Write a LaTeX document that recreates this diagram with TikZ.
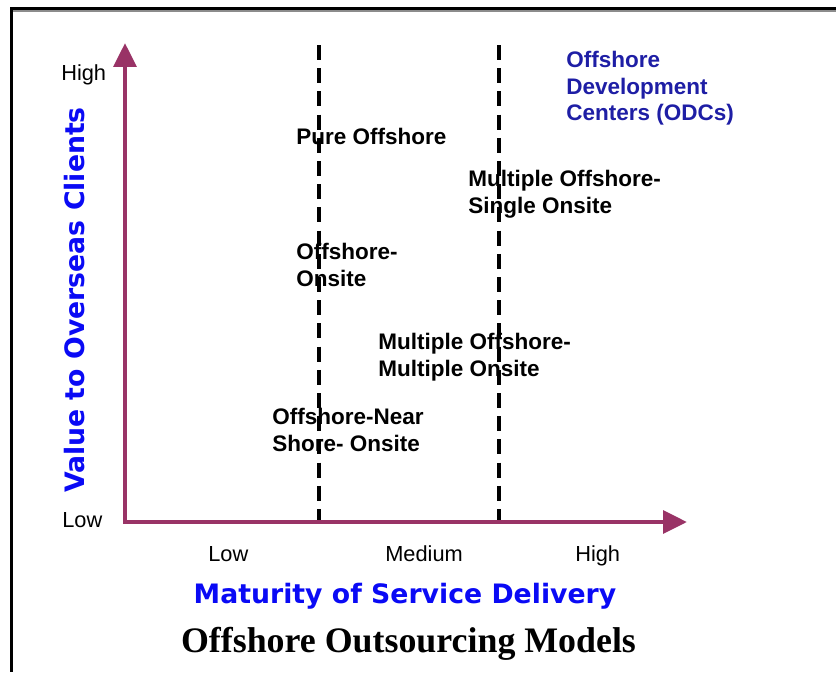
\documentclass[tikz,border=0pt]{standalone}
\usepackage{fontspec}
\setmainfont{Liberation Sans}
\newfontfamily\verdana{DejaVu Sans}
\newfontfamily\serifbold{Liberation Serif}
\usetikzlibrary{arrows.meta}
\definecolor{plum}{RGB}{153, 51, 102}
\definecolor{bl}{RGB}{10, 10, 245}
\definecolor{nv}{RGB}{30, 30, 165}

\tikzset{
    axis/.style={plum, line width=3.2pt, line join=miter,
        {Triangle[width=16pt,length=17pt]}-{Triangle[width=16pt,length=17pt]}},
    divider/.style={line width=3pt, dash pattern=on 10.7pt off 5.8pt},
    level/.style={anchor=base west, inner sep=0pt, font=\fontsize{15.5}{18}\selectfont},
    model/.style={anchor=north west, inner sep=0pt, align=left,
        font=\fontsize{16}{18.9}\selectfont\bfseries},
    axistitle/.style={bl, anchor=base, inner sep=0pt,
        font=\fontsize{19}{22}\selectfont\verdana\bfseries}
}

\begin{document}
\begin{tikzpicture}[x=0.025cm, y=-0.025cm]
        \useasboundingbox (0,0) rectangle (836,672);
        % frame
        \draw[black!45, line width=1pt] (836,11) -- (13,11);
        \draw[line width=2.2pt] (836,8.5) -- (11.5,8.5) -- (11.5,672);

        % borders between the maturity levels
        \draw[divider] (319,45) -- (319,521);
        \draw[divider] (499,45) -- (499,521);

        % axes
        \coordinate (o) at (125,522);
        \coordinate (ytop) at (125,43);
        \coordinate (xend) at (687,522);
        \draw[axis] (ytop) -- (o) -- (xend);

        \node[level] (yhigh) at (61,80) {High};
        \node[level] (ylow) at (62,527) {Low};
        \node[level] (xlow) at (208,561) {Low};
        \node[level] (xmed) at (385,561) {Medium};
        \node[level] (xhigh) at (575,561) {High};

        \node[axistitle, rotate=90] (yt) at (84,300) {Value to Overseas Clients};
        \node[axistitle] (xt) at (405,603) {Maturity of Service Delivery};
        \node[anchor=base, inner sep=0pt, font=\fontsize{25.5}{30}\selectfont\serifbold\bfseries] (title) at (408.5,652) {Offshore Outsourcing Models};

        % models
        \node[model, nv] (odc) at (566,51) {Offshore\\Development\\Centers (ODCs)};
        \node[model] (pure) at (296,128) {Pure Offshore};
        \node[model] (mos) at (468,170) {Multiple Offshore-\\Single Onsite};
        \node[model] (oo) at (296,243) {Offshore-\\Onsite};
        \node[model] (mom) at (378,333) {Multiple Offshore-\\Multiple Onsite};
        \node[model] (ons) at (272,408) {Offshore-Near\\Shore- Onsite};
    \end{tikzpicture}
\end{document}
